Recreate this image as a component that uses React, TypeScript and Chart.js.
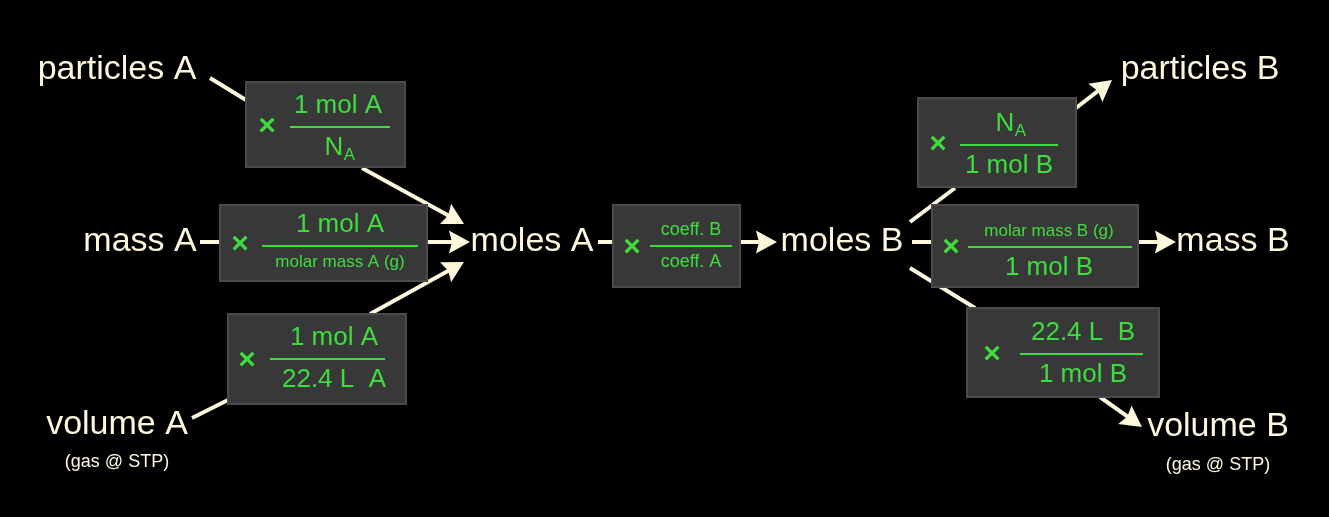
import React, { useEffect, useRef } from 'react';
import { Chart, registerables } from 'chart.js';

Chart.register(...registerables);

const W = 1329;
const H = 517;
const CREAM = '#fdf8dc';
const GREEN = '#3fdc3f';

// text labels: [text, x, y, size]
const labels: [string, number, number, number][] = [
  ['particles A', 117, 70, 34],
  ['mass A', 140, 242, 34],
  ['volume A', 117, 425, 34],
  ['(gas @ STP)', 117, 462, 18],
  ['moles A', 532, 242, 34],
  ['moles B', 842, 242, 34],
  ['particles B', 1200, 70, 34],
  ['mass B', 1233, 242, 34],
  ['volume B', 1218, 427, 34],
  ['(gas @ STP)', 1218, 465, 18],
];

// factor boxes: [x0, y0, x1, y1, timesX, fracX, numerator, denominator, lineX0, lineX1, lineY, numSize, denSize]
const boxes: [number, number, number, number, number, number, string, string, number, number, number, number, number][] = [
  [246, 82, 405, 167, 267, 338, '1 mol A', 'N_A', 290, 390, 127, 26, 26],
  [220, 205, 427, 281, 240, 340, '1 mol A', 'molar mass A (g)', 262, 418, 246, 26, 17],
  [228, 314, 406, 404, 247, 334, '1 mol A', '22.4 L  A', 270, 385, 359, 26, 26],
  [613, 205, 740, 287, 632, 691, 'coeff. B', 'coeff. A', 650, 732, 246, 18, 18],
  [918, 98, 1076, 187, 938, 1009, 'N_A', '1 mol B', 960, 1058, 145, 26, 26],
  [932, 205, 1138, 287, 951, 1049, 'molar mass B (g)', '1 mol B', 968, 1132, 247, 17, 26],
  [967, 308, 1159, 397, 992, 1083, '22.4 L  B', '1 mol B', 1020, 1143, 354, 26, 26],
];

// connectors: [x0, y0, x1, y1, arrowhead]
const arrows: [number, number, number, number, boolean][] = [
  [210, 78, 246, 100, false],
  [362, 168, 464, 224, true],
  [200, 242, 220, 242, false],
  [427, 242, 470, 242, true],
  [192, 418, 228, 400, false],
  [370, 314, 464, 262, true],
  [598, 242, 613, 242, false],
  [740, 242, 777, 242, true],
  [910, 222, 955, 188, false],
  [1076, 108, 1112, 80, true],
  [912, 242, 932, 242, false],
  [1138, 242, 1176, 242, true],
  [910, 268, 975, 308, false],
  [1100, 397, 1142, 427, true],
];

const FONT = '"Liberation Sans", Arial, sans-serif';

function drawText(ctx: CanvasRenderingContext2D, t: string, x: number, y: number, size: number, color: string, weight = '') {
  ctx.fillStyle = color;
  ctx.textAlign = 'center';
  ctx.textBaseline = 'middle';
  if (t === 'N_A') {
    ctx.font = `${size}px ${FONT}`;
    const w = ctx.measureText('N').width;
    ctx.fillText('N', x - 4, y);
    ctx.font = `${size * 0.65}px ${FONT}`;
    ctx.fillText('A', x - 4 + w / 2 + 6, y + size * 0.3);
    return;
  }
  ctx.font = `${weight} ${size}px ${FONT}`;
  ctx.fillText(t, x, y);
}

const diagramPlugin = {
  id: 'diagram',
  beforeDraw(chart: Chart) {
    const ctx = chart.ctx;
    ctx.save();
    ctx.fillStyle = '#000';
    ctx.fillRect(0, 0, chart.width, chart.height);
    ctx.restore();
  },
  afterDraw(chart: Chart) {
    const ctx = chart.ctx;
    const px = (v: number) => chart.scales.x.getPixelForValue(v);
    const py = (v: number) => chart.scales.y.getPixelForValue(v);
    ctx.save();

    arrows.forEach(([x0, y0, x1, y1, head]) => {
      const ax = px(x0), ay = py(y0), bx = px(x1), by = py(y1);
      const ang = Math.atan2(by - ay, bx - ax);
      const L = 24;
      ctx.strokeStyle = CREAM;
      ctx.fillStyle = CREAM;
      ctx.lineWidth = 4;
      ctx.beginPath();
      ctx.moveTo(ax, ay);
      ctx.lineTo(head ? bx - Math.cos(ang) * L * 0.7 : bx, head ? by - Math.sin(ang) * L * 0.7 : by);
      ctx.stroke();
      if (head) {
        ctx.beginPath();
        ctx.moveTo(bx, by);
        ctx.lineTo(bx - L * Math.cos(ang - 0.5), by - L * Math.sin(ang - 0.5));
        ctx.lineTo(bx - L * 0.75 * Math.cos(ang), by - L * 0.75 * Math.sin(ang));
        ctx.lineTo(bx - L * Math.cos(ang + 0.5), by - L * Math.sin(ang + 0.5));
        ctx.closePath();
        ctx.fill();
      }
    });

    boxes.forEach(([x0, y0, x1, y1, tx, fx, num, den, lx0, lx1, ly, ns, ds]) => {
      ctx.fillStyle = '#383838';
      ctx.strokeStyle = '#4a4a4a';
      ctx.lineWidth = 2;
      ctx.fillRect(px(x0), py(y0), px(x1) - px(x0), py(y1) - py(y0));
      ctx.strokeRect(px(x0), py(y0), px(x1) - px(x0), py(y1) - py(y0));
      drawText(ctx, '×', px(tx), py((y0 + y1) / 2 + 2), 30, GREEN, 'bold');
      drawText(ctx, num, px(fx), py(ly - (ns > 20 ? 21 : 16)), ns, GREEN);
      drawText(ctx, den, px(fx), py(ly + (ds > 20 ? 21 : 16)), ds, GREEN);
      ctx.strokeStyle = GREEN;
      ctx.lineWidth = 2;
      ctx.beginPath();
      ctx.moveTo(px(lx0), py(ly));
      ctx.lineTo(px(lx1), py(ly));
      ctx.stroke();
    });

    labels.forEach(([t, x, y, s]) => drawText(ctx, t, px(x), py(y), s, CREAM));
    ctx.restore();
  },
};

const App: React.FC = () => {
  const canvasRef = useRef<HTMLCanvasElement>(null);
  const chartRef = useRef<Chart | null>(null);

  useEffect(() => {
    if (!canvasRef.current) return;
    if (chartRef.current) chartRef.current.destroy();
    chartRef.current = new Chart(canvasRef.current, {
      type: 'scatter',
      data: { datasets: [{ data: [], pointRadius: 0 }] },
      options: {
        animation: false,
        responsive: false,
        layout: { padding: 0 },
        plugins: { legend: { display: false }, tooltip: { enabled: false } },
        scales: {
          x: { type: 'linear', min: 0, max: W, display: false },
          y: { type: 'linear', min: 0, max: H, reverse: true, display: false },
        },
      },
      plugins: [diagramPlugin],
    } as any);
    return () => {
      if (chartRef.current) chartRef.current.destroy();
    };
  }, []);

  return (
    <div style={{ position: 'fixed', left: 0, top: 0, width: W, height: H, background: '#000' }}>
      <canvas ref={canvasRef} width={W} height={H} style={{ display: 'block' }} />
    </div>
  );
};

export default App;
